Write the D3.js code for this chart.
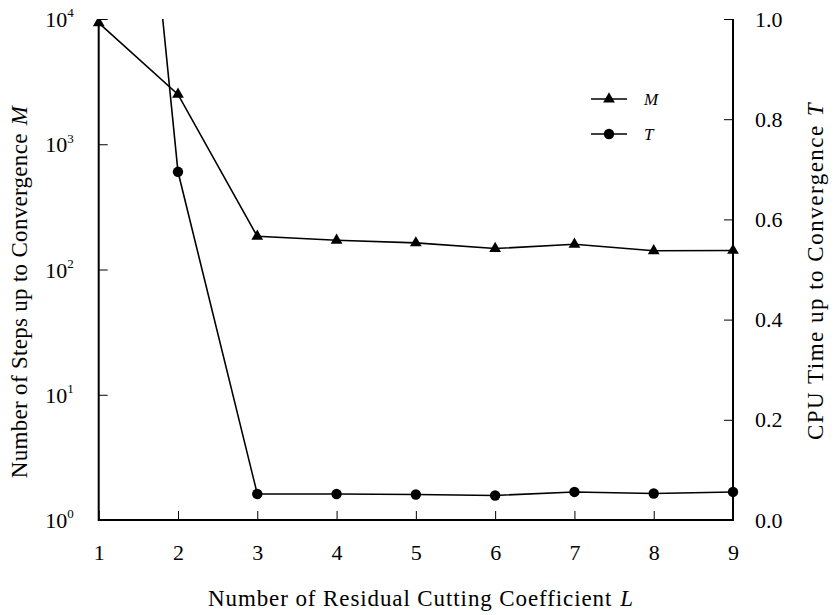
<!DOCTYPE html>
<html><head><meta charset="utf-8">
<script src="https://cdn.jsdelivr.net/npm/d3@7"></script>
<style>
html,body{margin:0;padding:0;background:#fff;}
svg{display:block;}
text{font-family:"Liberation Serif","Times New Roman",serif;fill:#000;}
</style></head>
<body>
<svg id="chart" width="834" height="615"></svg>
<script>
// ---- data ----
const categories = [1, 2, 3, 4, 5, 6, 7, 8, 9];           // L
const stepsM = [9300, 2500, 184, 171, 163, 147, 159, 141, 142];   // M (left, log)
const timeT = [2.28, 0.695, 0.052, 0.052, 0.051, 0.049, 0.056, 0.053, 0.056]; // T (right)
const leftTicks = [1, 10, 100, 1000, 10000];
const leftExponents = ["0", "1", "2", "3", "4"];
const rightTicks = [0, 0.2, 0.4, 0.6, 0.8, 1.0];
const xTitle = "Number of Residual Cutting Coefficient";
const yLeftTitle = "Number of Steps up to Convergence";
const yRightTitle = "CPU Time up to Convergence";

// ---- layout ----
const svg = d3.select("#chart");
const x0 = 98.7, x1 = 733, y0 = 520, y1 = 19;
const x = d3.scaleLinear().domain([1, 9]).range([x0, x1]);
const yL = d3.scaleLog().domain([1, 10000]).range([y0, y1]);
const yR = d3.scaleLinear().domain([0, 1]).range([y0, y1]);

svg.append("defs").append("clipPath").attr("id", "plotclip")
  .append("rect").attr("x", x0 - 10).attr("y", y1).attr("width", x1 - x0 + 20).attr("height", y0 - y1 + 10);

const fs = 22;

// bottom axis
const gx = svg.append("g").attr("transform", `translate(0,${y0})`)
  .call(d3.axisBottom(x).tickValues(categories).tickSize(-9).tickPadding(0).tickFormat(d3.format("d")));
gx.select(".domain").remove();
gx.selectAll(".tick line").attr("stroke", "#000").attr("stroke-width", 1);
gx.selectAll(".tick text").attr("font-size", fs).attr("dy", null).attr("y", 40).attr("font-family", "Liberation Serif");

// left axis
const gl = svg.append("g").attr("transform", `translate(${x0},0)`)
  .call(d3.axisLeft(yL).tickValues(leftTicks).tickSize(-9).tickFormat(() => ""));
gl.select(".domain").remove();
gl.selectAll(".tick line").attr("stroke", "#000").attr("stroke-width", 1);
gl.selectAll(".tick text").remove();
gl.selectAll(".tick").each(function (d, i) {
  const t = d3.select(this).append("text")
    .attr("x", -25).attr("y", 0).attr("dy", "0.35em")
    .attr("text-anchor", "end").attr("font-size", fs).attr("font-family", "Liberation Serif");
  t.append("tspan").text("10");
  t.append("tspan").attr("font-size", 13).attr("dy", "-0.75em").attr("dx", 0).text(leftExponents[i]);
});

// right axis
const gr = svg.append("g").attr("transform", `translate(${x1},0)`)
  .call(d3.axisRight(yR).tickValues(rightTicks).tickSize(-9).tickPadding(0).tickFormat(d3.format(".1f")));
gr.select(".domain").remove();
gr.selectAll(".tick line").attr("stroke", "#000").attr("stroke-width", 1);
gr.selectAll(".tick text").attr("font-size", fs).attr("x", 22).attr("font-family", "Liberation Serif");

// axis frame lines
svg.append("path")
  .attr("d", `M${x0},${y1}V${y0}H${x1}V${y1}`)
  .attr("fill", "none").attr("stroke", "#000").attr("stroke-width", 2);

// series
const plot = svg.append("g").attr("clip-path", "url(#plotclip)");
const lineM = d3.line().x((d, i) => x(categories[i])).y(d => yL(d));
const lineT = d3.line().x((d, i) => x(categories[i])).y(d => yR(d));
plot.append("path").attr("d", lineM(stepsM)).attr("fill", "none").attr("stroke", "#000").attr("stroke-width", 1.6);
plot.append("path").attr("d", lineT(timeT)).attr("fill", "none").attr("stroke", "#000").attr("stroke-width", 1.6);

const tri = d3.symbol().type(d3.symbolTriangle).size(60);
const cir = d3.symbol().type(d3.symbolCircle).size(85);
plot.selectAll(".mM").data(stepsM).join("path")
  .attr("d", tri).attr("transform", (d, i) => `translate(${x(categories[i])},${yL(d)})`).attr("fill", "#000");
plot.selectAll(".mT").data(timeT).join("path")
  .attr("d", cir).attr("transform", (d, i) => `translate(${x(categories[i])},${yR(d)})`).attr("fill", "#000");

// legend
const leg = svg.append("g");
const legItems = [{ name: "M", sym: tri, y: 99 }, { name: "T", sym: cir, y: 134 }];
legItems.forEach(it => {
  leg.append("line").attr("x1", 591).attr("x2", 627).attr("y1", it.y).attr("y2", it.y)
    .attr("stroke", "#000").attr("stroke-width", 1.6);
  leg.append("path").attr("d", it.sym).attr("transform", `translate(609,${it.y})`).attr("fill", "#000");
  leg.append("text").attr("x", 644).attr("y", it.y).attr("dy", "0.35em")
    .attr("font-size", 17).attr("font-style", "italic").text(it.name);
});

// titles
const xt = svg.append("text").attr("x", 421).attr("y", 606)
  .attr("text-anchor", "middle").attr("font-size", 23).attr("letter-spacing", 0.9);
xt.append("tspan").text(xTitle);
xt.append("tspan").attr("dx", 8).attr("font-style", "italic").text("L");

const ylt = svg.append("text").attr("transform", `translate(27,292) rotate(-90)`)
  .attr("text-anchor", "middle").attr("font-size", 23).attr("letter-spacing", 0.3);
ylt.append("tspan").text(yLeftTitle);
ylt.append("tspan").attr("dx", 8).attr("font-style", "italic").text("M");

const yrt = svg.append("text").attr("transform", `translate(823,271) rotate(-90)`)
  .attr("text-anchor", "middle").attr("font-size", 23).attr("letter-spacing", 1.5);
yrt.append("tspan").text(yRightTitle);
yrt.append("tspan").attr("dx", 8).attr("font-style", "italic").text("T");
</script>
</body></html>
